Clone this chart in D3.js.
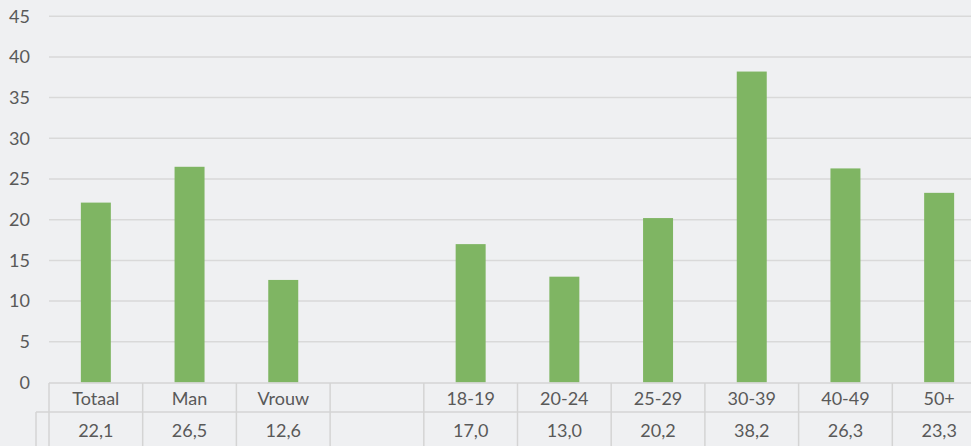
<!DOCTYPE html>
<html>
<head>
<meta charset="utf-8">
<script src="https://cdn.jsdelivr.net/npm/d3@7"></script>
<style>
  html, body { margin: 0; padding: 0; background: #eff0f2; overflow: hidden; }
  svg { display: block; font-family: Lato, "Open Sans", sans-serif; }
</style>
</head>
<body>
<div id="chart"></div>
<script>
// categories (empty slot between gender and age groups)
const categories = ['Totaal', 'Man', 'Vrouw', '', '18-19', '20-24', '25-29', '30-39', '40-49', '50+'];
const values = [22.1, 26.5, 12.6, null, 17.0, 13.0, 20.2, 38.2, 26.3, 23.3];
const yTicks = [0, 5, 10, 15, 20, 25, 30, 35, 40, 45];

const width = 971, height = 446;
const left = 49, slot = 93.7;
const y0 = 382.5, yTop = 16.2;
const row1 = 383, row2 = 412;

let svg = d3.select('#chart').append('svg')
            .attr('width', width)
            .attr('height', height);

svg.append('rect').attr('width', width).attr('height', height).attr('fill', '#eff0f2');

let keys = categories.map((c, i) => i);
let x = d3.scaleBand()
          .domain(keys)
          .range([left, left + slot * categories.length])
          .paddingInner(0.68)
          .paddingOuter(0.34);

let y = d3.scaleLinear()
          .domain([0, 45])
          .range([y0, yTop]);

// gridlines
svg.append('g').selectAll('line.grid').data(yTicks.filter(d => d > 0))
   .join('line')
   .attr('class', 'grid')
   .attr('x1', left).attr('x2', width)
   .attr('y1', d => y(d)).attr('y2', d => y(d))
   .attr('stroke', '#d9d9d9')
   .attr('stroke-width', 1.5);

// y labels
svg.append('g').selectAll('text.ytick').data(yTicks)
   .join('text')
   .attr('class', 'ytick')
   .attr('x', 30)
   .attr('y', d => y(d))
   .attr('dy', '0.35em')
   .attr('text-anchor', 'end')
   .attr('fill', '#595959')
   .style('font-size', '18px')
   .text(d => d);

// bars
let data = keys.map(i => ({key: i, value: values[i]})).filter(d => d.value != null);
svg.append('g').selectAll('rect.bar').data(data)
   .join('rect')
   .attr('class', 'bar')
   .attr('x', d => x(d.key))
   .attr('width', x.bandwidth())
   .attr('y', d => y(d.value))
   .attr('height', d => y(0) - y(d.value))
   .attr('fill', '#7fb563');

// data table
let table = svg.append('g');
let border = '#d4d4d4';
table.append('line').attr('x1', left).attr('x2', width).attr('y1', row1).attr('y2', row1)
     .attr('stroke', border).attr('stroke-width', 1.5);
table.append('line').attr('x1', 36).attr('x2', width).attr('y1', row2).attr('y2', row2)
     .attr('stroke', border).attr('stroke-width', 1.5);
table.append('line').attr('x1', 36).attr('x2', 36).attr('y1', row2).attr('y2', height)
     .attr('stroke', border).attr('stroke-width', 1.5);

let edges = d3.range(categories.length + 1).map(i => left + i * slot);
table.selectAll('line.cell').data(edges)
     .join('line')
     .attr('class', 'cell')
     .attr('x1', d => d).attr('x2', d => d)
     .attr('y1', row1).attr('y2', height)
     .attr('stroke', border).attr('stroke-width', 1.5);

let center = i => x(i) + x.bandwidth() / 2;

table.selectAll('text.cat').data(keys)
     .join('text')
     .attr('class', 'cat')
     .attr('x', d => center(d))
     .attr('y', (row1 + row2) / 2 + 1)
     .attr('dy', '0.35em')
     .attr('text-anchor', 'middle')
     .attr('fill', '#595959')
     .style('font-size', '18px')
     .text(d => categories[d]);

table.selectAll('text.val').data(keys)
     .join('text')
     .attr('class', 'val')
     .attr('x', d => center(d))
     .attr('y', 431)
     .attr('dy', '0.35em')
     .attr('text-anchor', 'middle')
     .attr('fill', '#595959')
     .style('font-size', '18px')
     .text(d => values[d] == null ? '' : d3.format('.1f')(values[d]).replace('.', ','));
</script>
</body>
</html>
